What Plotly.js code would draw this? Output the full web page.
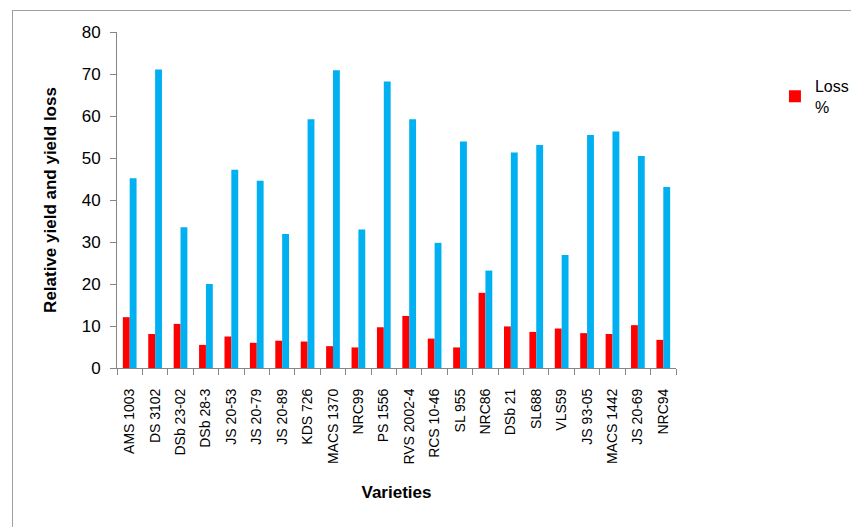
<!DOCTYPE html>
<html>
<head>
<meta charset="utf-8">
<script src="https://cdn.plot.ly/plotly-3.0.1.min.js"></script>
<style>
  html, body { margin: 0; padding: 0; background: #fff; }
  #wrap { position: relative; width: 851px; height: 527px; overflow: hidden; }
  #frame { position: absolute; left: 12px; top: 10px; width: 900px; height: 600px;
           border-left: 1px solid #a0a0a0; border-top: 1px solid #a0a0a0; pointer-events: none; }
  #chart { position: absolute; left: 0; top: 0; width: 851px; height: 527px; }
</style>
</head>
<body>
<div id="wrap">
  <div id="chart"></div>
  <div id="frame"></div>
</div>
<script>
const varieties = ["AMS 1003","DS 3102","DSb 23-02","DSb 28-3","JS 20-53","JS 20-79","JS 20-89","KDS 726","MACS 1370","NRC99","PS 1556","RVS 2002-4","RCS 10-46","SL 955","NRC86","DSb 21","SL688","VLS59","JS 93-05","MACS 1442","JS 20-69","NRC94"];
const lossPct = [12.1, 8.1, 10.5, 5.5, 7.5, 6.0, 6.5, 6.3, 5.2, 4.9, 9.7, 12.4, 7.0, 4.9, 17.9, 9.9, 8.6, 9.4, 8.3, 8.1, 10.2, 6.7];
const relativeYield = [45.2, 71.1, 33.5, 20.0, 47.2, 44.6, 31.9, 59.2, 70.9, 33.0, 68.2, 59.2, 29.8, 53.9, 23.2, 51.3, 53.1, 26.9, 55.5, 56.3, 50.5, 43.1];
const yTicks = [0, 10, 20, 30, 40, 50, 60, 70, 80];

const font = "Liberation Sans, Arial, sans-serif";

const traces = [
  { type: "bar", name: "Loss<br>%", x: varieties, y: lossPct,
    marker: { color: "#FF0000" }, showlegend: true },
  { type: "bar", name: "Relative yield", x: varieties, y: relativeYield,
    marker: { color: "#00B0F0" }, showlegend: false }
];

const layout = {
  width: 851, height: 527,
  margin: { l: 117, r: 175, t: 32, b: 159, autoexpand: false },
  paper_bgcolor: "#fff", plot_bgcolor: "#fff",
  barmode: "group", bargap: 0.46, bargroupgap: 0,
  font: { family: font, color: "#000" },
  xaxis: {
    type: "category", tickangle: -90, tickson: "boundaries",
    ticks: "outside", ticklen: 6, tickcolor: "#868686",
    showline: true, linecolor: "#868686", linewidth: 1,
    showgrid: false, zeroline: false,
    tickfont: { size: 14, family: font, color: "#000" },
    ticklabelstandoff: 14,
    title: { text: "<b>Varieties</b>", font: { size: 17, family: font }, standoff: 22 }
  },
  yaxis: {
    range: [0, 80], tickvals: yTicks, ticktext: yTicks.map(String),
    ticks: "outside", ticklen: 6, tickcolor: "#868686",
    showline: true, linecolor: "#868686", linewidth: 1,
    showgrid: false, zeroline: false,
    tickfont: { size: 17, family: font, color: "#000" },
    ticklabelstandoff: 6,
    title: { text: "<b>Relative yield and yield loss</b>", font: { size: 17, family: font }, standoff: 20 }
  },
  legend: {
    x: 1.177, y: 0.89, xanchor: "left", yanchor: "top",
    font: { size: 16, family: font, color: "#000" },
    bgcolor: "rgba(0,0,0,0)", itemwidth: 30
  }
};

Plotly.newPlot("chart", traces, layout, { displayModeBar: false, staticPlot: true });
</script>
</body>
</html>
